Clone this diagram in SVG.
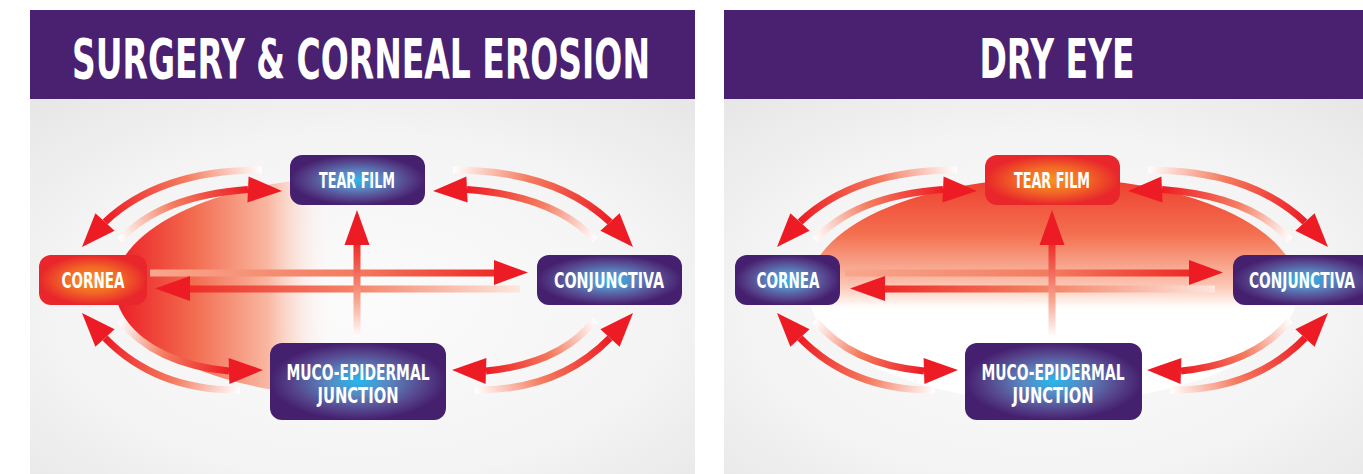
<svg xmlns="http://www.w3.org/2000/svg" xmlns:xlink="http://www.w3.org/1999/xlink" width="1363" height="474" viewBox="0 0 1363 474">
<defs>
<style>
.hdr{fill:#4a2070}
.ttl{fill:#fff;font-family:"Liberation Sans Narrow","DejaVu Sans Condensed","Liberation Sans",sans-serif;font-weight:bold;font-size:56px;text-anchor:middle}
.lbl{fill:#fff;font-family:"Liberation Sans Narrow","DejaVu Sans Condensed","Liberation Sans",sans-serif;font-weight:bold;font-size:21px;text-anchor:middle}
.pbox{fill:url(#gPurple)}
.obox{fill:url(#gOrange)}
.ln{fill:none;stroke-width:7}
.hd{fill:#ed1c24}
</style>
<radialGradient id="gBody" cx="0.5" cy="0.55" r="0.75">
<stop offset="0" stop-color="#fbfbfb"/><stop offset="0.6" stop-color="#f4f4f4"/><stop offset="1" stop-color="#e6e6e6"/>
</radialGradient>
<radialGradient id="gPurple" cx="0.5" cy="0.5" r="0.5">
<stop offset="0" stop-color="#26b8ee"/><stop offset="0.35" stop-color="#5a86c0"/><stop offset="0.75" stop-color="#56448c"/><stop offset="1" stop-color="#45206e"/>
</radialGradient>
<radialGradient id="gOrange" cx="0.5" cy="0.5" r="0.5">
<stop offset="0" stop-color="#f7941d"/><stop offset="0.5" stop-color="#f26a26"/><stop offset="1" stop-color="#e8262b"/>
</radialGradient>
<linearGradient id="gGlow1" gradientUnits="userSpaceOnUse" x1="115" y1="0" x2="335" y2="0">
<stop offset="0" stop-color="#ec1c24"/><stop offset="0.35" stop-color="#f26a4e"/><stop offset="0.7" stop-color="#f9b8a2"/><stop offset="1" stop-color="#ffffff" stop-opacity="0"/>
</linearGradient>
<linearGradient id="gGlow2" gradientUnits="userSpaceOnUse" x1="0" y1="178" x2="0" y2="402">
<stop offset="0" stop-color="#ee3e2e"/><stop offset="0.25" stop-color="#f3704f"/><stop offset="0.48" stop-color="#fbc6b3"/><stop offset="0.58" stop-color="#ffffff"/><stop offset="1" stop-color="#ffffff"/>
</linearGradient>
<linearGradient id="gHt" gradientUnits="userSpaceOnUse" x1="150" y1="0" x2="496" y2="0">
<stop offset="0" stop-color="#f8a78e"/><stop offset="0.6" stop-color="#f37a5e"/><stop offset="1" stop-color="#ee2a26"/>
</linearGradient>
<linearGradient id="gHb" gradientUnits="userSpaceOnUse" x1="520" y1="0" x2="188" y2="0">
<stop offset="0" stop-color="#fde6de"/><stop offset="0.5" stop-color="#f48467"/><stop offset="1" stop-color="#ee2a26"/>
</linearGradient>
<linearGradient id="gV" gradientUnits="userSpaceOnUse" x1="0" y1="337" x2="0" y2="243">
<stop offset="0" stop-color="#ffffff"/><stop offset="0.4" stop-color="#f7a48c"/><stop offset="1" stop-color="#ee2a26"/>
</linearGradient>
<linearGradient id="gA1" gradientUnits="userSpaceOnUse" x1="262" y1="170" x2="105" y2="222"><stop offset="0" stop-color="#ffffff"/><stop offset="0.45" stop-color="#f47c5f"/><stop offset="1" stop-color="#ed1c24"/></linearGradient>
<linearGradient id="gA2" gradientUnits="userSpaceOnUse" x1="120" y1="240" x2="248" y2="189"><stop offset="0" stop-color="#ffffff"/><stop offset="0.45" stop-color="#f47c5f"/><stop offset="1" stop-color="#ed1c24"/></linearGradient>
<linearGradient id="gA3" gradientUnits="userSpaceOnUse" x1="453" y1="170" x2="610" y2="222"><stop offset="0" stop-color="#ffffff"/><stop offset="0.45" stop-color="#f47c5f"/><stop offset="1" stop-color="#ed1c24"/></linearGradient>
<linearGradient id="gA4" gradientUnits="userSpaceOnUse" x1="595" y1="240" x2="467" y2="189"><stop offset="0" stop-color="#ffffff"/><stop offset="0.45" stop-color="#f47c5f"/><stop offset="1" stop-color="#ed1c24"/></linearGradient>
<linearGradient id="gA5" gradientUnits="userSpaceOnUse" x1="240" y1="390" x2="105" y2="338"><stop offset="0" stop-color="#ffffff"/><stop offset="0.45" stop-color="#f47c5f"/><stop offset="1" stop-color="#ed1c24"/></linearGradient>
<linearGradient id="gA6" gradientUnits="userSpaceOnUse" x1="120" y1="320" x2="229" y2="371"><stop offset="0" stop-color="#ffffff"/><stop offset="0.45" stop-color="#f47c5f"/><stop offset="1" stop-color="#ed1c24"/></linearGradient>
<linearGradient id="gA7" gradientUnits="userSpaceOnUse" x1="475" y1="390" x2="610" y2="338"><stop offset="0" stop-color="#ffffff"/><stop offset="0.45" stop-color="#f47c5f"/><stop offset="1" stop-color="#ed1c24"/></linearGradient>
<linearGradient id="gA8" gradientUnits="userSpaceOnUse" x1="595" y1="320" x2="486" y2="371"><stop offset="0" stop-color="#ffffff"/><stop offset="0.45" stop-color="#f47c5f"/><stop offset="1" stop-color="#ed1c24"/></linearGradient>
<g id="arrowSet">
<path class="ln" stroke="url(#gHt)" d="M150,273 H496"/><polygon class="hd" points="494,260 528,272.5 494,285"/>
<path class="ln" stroke="url(#gHb)" d="M520,289 H188"/><polygon class="hd" points="190,276 155,288.5 190,301"/>
<path class="ln" stroke="url(#gV)" d="M357,337 V243"/><polygon class="hd" points="344.5,245 357,210 369.5,245"/>
<path class="ln" stroke="url(#gA1)" d="M262,170 Q160,170 105,222"/><polygon class="hd" points="95.4,213.2 82,247 114.6,230.8"/>
<path class="ln" stroke="url(#gA2)" d="M120,240 Q160,196 248,189.5"/><polygon class="hd" points="248.6,176.5 282,191 247.4,202.5"/>
<path class="ln" stroke="url(#gA3)" d="M453,170 Q555,170 610,222"/><polygon class="hd" points="619.6,213.2 633,247 600.4,230.8"/>
<path class="ln" stroke="url(#gA4)" d="M595,240 Q555,196 467,189.5"/><polygon class="hd" points="466.4,176.5 433,191 467.6,202.5"/>
<path class="ln" stroke="url(#gA5)" d="M240,390 Q157,391 105,338"/><polygon class="hd" points="95.4,346.8 82,313 114.6,329.2"/>
<path class="ln" stroke="url(#gA6)" d="M120,320 Q155,364 229,371"/><polygon class="hd" points="229.4,384 263,370 228.6,358"/>
<path class="ln" stroke="url(#gA7)" d="M475,390 Q558,391 610,338"/><polygon class="hd" points="619.6,346.8 633,313 600.4,329.2"/>
<path class="ln" stroke="url(#gA8)" d="M595,320 Q560,364 486,371"/><polygon class="hd" points="485.6,384 452,370 486.4,358"/>
</g>
</defs>
<rect x="0" y="0" width="1363" height="474" fill="#ffffff"/>

<g id="panel-surgery">
<rect x="30" y="99" width="665" height="375" fill="url(#gBody)"/>
<rect class="hdr" x="30" y="10" width="665" height="89"/>
<text class="ttl" x="361" y="78" textLength="578" lengthAdjust="spacingAndGlyphs">SURGERY &amp; CORNEAL EROSION</text>
<path d="M360,177 A245,110 0 0 0 360,397 Z" fill="url(#gGlow1)"/>
</g>

<g id="panel-dry-eye">
<rect x="724" y="99" width="639" height="375" fill="url(#gBody)"/>
<rect class="hdr" x="724" y="10" width="639" height="89"/>
<text class="ttl" x="1057" y="78" textLength="155" lengthAdjust="spacingAndGlyphs">DRY EYE</text>
<ellipse cx="1053" cy="290" rx="245" ry="112" fill="url(#gGlow2)"/>
</g>

<g id="connectors-surgery">
<use xlink:href="#arrowSet" href="#arrowSet"/>
</g>
<g id="connectors-dry-eye" transform="translate(695,0)">
<use xlink:href="#arrowSet" href="#arrowSet"/>
</g>

<g id="s-tear-film"><rect class="pbox" x="290" y="155" width="135" height="50" rx="12"/><text class="lbl" x="357" y="188" textLength="76" lengthAdjust="spacingAndGlyphs">TEAR FILM</text></g>
<g id="s-cornea"><rect class="obox" x="39" y="255" width="108" height="50" rx="12"/><text class="lbl" x="93" y="288" textLength="63" lengthAdjust="spacingAndGlyphs">CORNEA</text></g>
<g id="s-conjunctiva"><rect class="pbox" x="537" y="255" width="145" height="50" rx="12"/><text class="lbl" x="609" y="288" textLength="110" lengthAdjust="spacingAndGlyphs">CONJUNCTIVA</text></g>
<g id="s-muco"><rect class="pbox" x="270" y="343" width="176" height="77" rx="12"/><text class="lbl" x="358" y="380" textLength="143" lengthAdjust="spacingAndGlyphs">MUCO-EPIDERMAL</text><text class="lbl" x="358" y="403" textLength="81" lengthAdjust="spacingAndGlyphs">JUNCTION</text></g>

<g id="d-tear-film"><rect class="obox" x="985" y="155" width="135" height="50" rx="12"/><text class="lbl" x="1052" y="188" textLength="76" lengthAdjust="spacingAndGlyphs">TEAR FILM</text></g>
<g id="d-cornea"><rect class="pbox" x="735" y="255" width="105" height="50" rx="12"/><text class="lbl" x="788" y="288" textLength="63" lengthAdjust="spacingAndGlyphs">CORNEA</text></g>
<g id="d-conjunctiva"><rect class="pbox" x="1233" y="255" width="145" height="50" rx="12"/><text class="lbl" x="1302" y="288" textLength="106" lengthAdjust="spacingAndGlyphs">CONJUNCTIVA</text></g>
<g id="d-muco"><rect class="pbox" x="965" y="343" width="177" height="77" rx="12"/><text class="lbl" x="1053" y="380" textLength="143" lengthAdjust="spacingAndGlyphs">MUCO-EPIDERMAL</text><text class="lbl" x="1053" y="403" textLength="81" lengthAdjust="spacingAndGlyphs">JUNCTION</text></g>
</svg>
